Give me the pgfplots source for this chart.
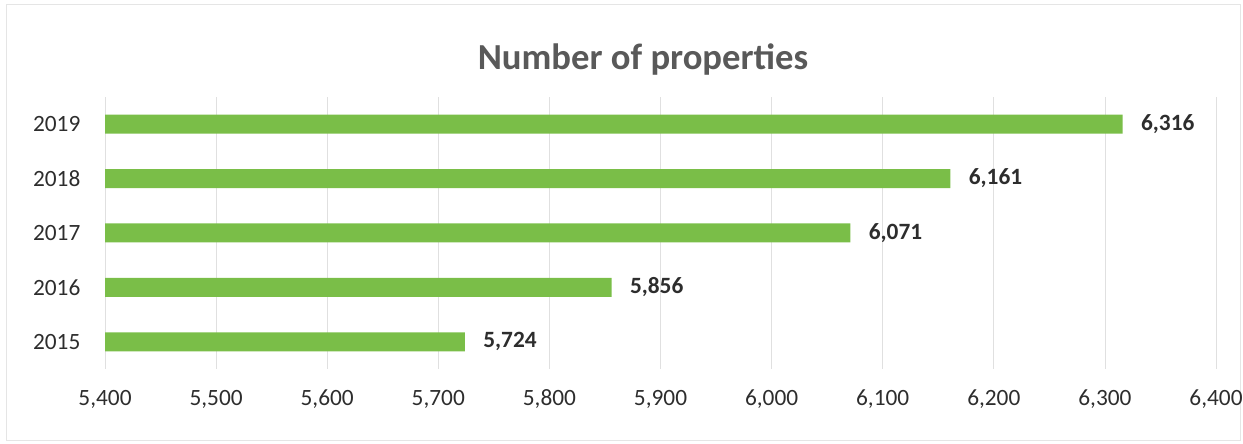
\documentclass[border=0pt]{standalone}
\usepackage{pgfplots}
\pgfplotsset{compat=1.18}
\usepackage{fontspec}
\setmainfont{Carlito}
\definecolor{bargreen}{RGB}{122,190,72}
\definecolor{titlegray}{RGB}{89,89,89}
\definecolor{txt}{RGB}{45,45,45}
\begin{document}
\begin{tikzpicture}
\useasboundingbox (0,0) rectangle (745.8pt,266.4pt);
\draw[black!10, line width=0.5pt] (3.6pt,2.4pt) rectangle (744pt,264pt);
\node[font=\fontsize{22}{26}\selectfont\bfseries, text=titlegray] at (385.8pt,230.4pt) {Number of properties};
\begin{axis}[
  at={(63pt,45pt)}, anchor=south west,
  scale only axis, width=666.6pt, height=163.2pt,
  xmin=5400, xmax=6400, ymin=-0.5, ymax=4.5,
  xtick={5400,5500,...,6400},
  ytick={0,1,2,3,4},
  yticklabels={2015,2016,2017,2018,2019},
  scaled x ticks=false,
  xticklabel style={font=\fontsize{14}{16}\selectfont, text=txt, yshift=-9pt,
    /pgf/number format/1000 sep={,}, /pgf/number format/assume math mode=true},
  yticklabel style={font=\fontsize{14}{16}\selectfont, text=txt, xshift=-7pt},
  xmajorgrids, major grid style={black!12, line width=0.5pt},
  axis line style={draw=none}, tick style={draw=none},
  xbar, bar width=11.4pt,
  nodes near coords={\pgfmathprintnumber[1000 sep={,},assume math mode=true]{\pgfplotspointmeta}},
  nodes near coords style={anchor=west, xshift=7.5pt, font=\fontsize{14}{16}\selectfont\bfseries, text=txt},
]
\addplot[draw=none, fill=bargreen] coordinates {
  (5724,0) (5856,1) (6071,2) (6161,3) (6316,4)
};
\end{axis}
\end{tikzpicture}
\end{document}
